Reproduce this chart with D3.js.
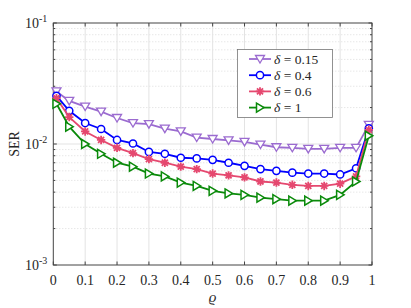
<!DOCTYPE html>
<html>
<head>
  <meta charset="utf-8">
  <title>SER vs rho</title>
  <style>
    body { margin: 0; background: #fff; }
    text { font-family: "Liberation Serif", "DejaVu Serif", serif; fill: #262626; }
  </style>
</head>
<body>
  <svg width="411" height="308"></svg>
  <script src="https://d3js.org/d3.v7.min.js"></script>
  <script>
  // data
  let rho = [0.01, 0.05, 0.1, 0.15, 0.2, 0.25, 0.3, 0.35, 0.4, 0.45, 0.5,
             0.55, 0.6, 0.65, 0.7, 0.75, 0.8, 0.85, 0.9, 0.95, 0.99];
  let ser015 = [0.0272, 0.0227, 0.0204, 0.0185, 0.0164, 0.0149, 0.0146, 0.0134, 0.0127, 0.0113, 0.0110,
                0.0107, 0.0104, 0.0099, 0.0094, 0.0093, 0.0091, 0.0091, 0.0093, 0.0093, 0.0144];
  let ser04  = [0.0250, 0.0188, 0.0149, 0.0133, 0.0108, 0.0101, 0.0086, 0.0083, 0.0077, 0.0076, 0.0074,
                0.0070, 0.0066, 0.0062, 0.0060, 0.0058, 0.0057, 0.0057, 0.0056, 0.0063, 0.0135];
  let ser06  = [0.0239, 0.0167, 0.0127, 0.0108, 0.0093, 0.0084, 0.0075, 0.0070, 0.0065, 0.0062, 0.0057,
                0.0055, 0.0053, 0.0049, 0.0048, 0.0046, 0.0045, 0.0045, 0.0047, 0.0054, 0.0131];
  let ser1   = [0.0215, 0.0139, 0.0100, 0.0083, 0.0070, 0.0065, 0.0057, 0.0054, 0.0048, 0.0045, 0.0041,
                0.0039, 0.0038, 0.0036, 0.0035, 0.0034, 0.0034, 0.0034, 0.0038, 0.0049, 0.0117];
  let deltas = ["0.15", "0.4", "0.6", "1"];
  let xTicks = [0, 0.1, 0.2, 0.3, 0.4, 0.5, 0.6, 0.7, 0.8, 0.9, 1];
  let xTickLabels = ["0", "0.1", "0.2", "0.3", "0.4", "0.5", "0.6", "0.7", "0.8", "0.9", "1"];
  let yTicks = [1e-3, 1e-2, 1e-1];
  let yTickExp = ["-3", "-2", "-1"];

  let series = [
    { d: deltas[0], y: ser015, color: "#9b6bd0", marker: "tridown" },
    { d: deltas[1], y: ser04,  color: "#0000ff", marker: "circle" },
    { d: deltas[2], y: ser06,  color: "#e5486f", marker: "star" },
    { d: deltas[3], y: ser1,   color: "#0a8a0a", marker: "triright" }
  ];

  let svg = d3.select("svg");
  let pLeft = 53.3, pRight = 372, pTop = 23, pBottom = 265;

  let x = d3.scaleLinear().domain([0, 1]).range([pLeft, pRight]);
  let y = d3.scaleLog().domain([1e-3, 1e-1]).range([pBottom, pTop]);

  // grid
  let minor = y.ticks().filter(v => yTicks.indexOf(v) < 0);
  let grid = svg.append("g");
  grid.selectAll(".ym").data(minor).enter().append("line")
    .attr("x1", pLeft).attr("x2", pRight)
    .attr("y1", d => y(d)).attr("y2", d => y(d))
    .attr("stroke", "#d4d4d4").attr("stroke-width", 0.8).attr("stroke-dasharray", "1,2");
  grid.selectAll(".yM").data([1e-2]).enter().append("line")
    .attr("x1", pLeft).attr("x2", pRight)
    .attr("y1", d => y(d)).attr("y2", d => y(d))
    .attr("stroke", "#e3e3e3").attr("stroke-width", 1);
  grid.selectAll(".xM").data(xTicks.slice(1, -1)).enter().append("line")
    .attr("y1", pTop).attr("y2", pBottom)
    .attr("x1", d => x(d)).attr("x2", d => x(d))
    .attr("stroke", "#e3e3e3").attr("stroke-width", 1);

  // axes (ticks inward, box on)
  let axisColor = "#444";
  let axes = svg.append("g").attr("stroke", axisColor).attr("stroke-width", 1);
  axes.append("rect").attr("x", pLeft).attr("y", pTop)
    .attr("width", pRight - pLeft).attr("height", pBottom - pTop)
    .attr("fill", "none");
  xTicks.forEach(t => {
    axes.append("line").attr("x1", x(t)).attr("x2", x(t)).attr("y1", pBottom).attr("y2", pBottom - 3.5);
    axes.append("line").attr("x1", x(t)).attr("x2", x(t)).attr("y1", pTop).attr("y2", pTop + 3.5);
  });
  y.ticks().forEach(t => {
    let len = yTicks.indexOf(t) >= 0 ? 3.5 : 2;
    axes.append("line").attr("x1", pLeft).attr("x2", pLeft + len).attr("y1", y(t)).attr("y2", y(t));
    axes.append("line").attr("x1", pRight).attr("x2", pRight - len).attr("y1", y(t)).attr("y2", y(t));
  });

  svg.selectAll(".xl").data(xTicks).enter().append("text")
    .attr("x", d => x(d)).attr("y", pBottom + 20)
    .attr("text-anchor", "middle").attr("font-size", 14)
    .text((d, i) => xTickLabels[i]);

  yTicks.forEach((t, i) => {
    let tx = svg.append("text").attr("x", pLeft - 6).attr("y", y(t) + 5)
      .attr("text-anchor", "end").attr("font-size", 14);
    tx.append("tspan").text("10");
    tx.append("tspan").attr("dy", -6).attr("font-size", 10).text(yTickExp[i]);
  });

  svg.append("text").attr("transform", "translate(19," + ((pTop + pBottom) / 2) + ") rotate(-90)")
    .attr("text-anchor", "middle").attr("font-size", 14).text("SER");
  svg.append("text").attr("x", (pLeft + pRight) / 2).attr("y", 302)
    .attr("text-anchor", "middle").attr("font-size", 15).attr("font-style", "italic").text("ϱ");

  // markers
  function drawMarker(g, type, cx, cy, color) {
    if (type === "circle") {
      g.append("circle").attr("cx", cx).attr("cy", cy).attr("r", 3.6)
        .attr("fill", "#fff").attr("stroke", color).attr("stroke-width", 1.5);
    } else if (type === "tridown") {
      g.append("path").attr("d", `M${cx - 4.5},${cy - 3.5}L${cx + 4.5},${cy - 3.5}L${cx},${cy + 4}Z`)
        .attr("fill", "#fff").attr("stroke", color).attr("stroke-width", 1.3);
    } else if (type === "triright") {
      g.append("path").attr("d", `M${cx - 3.5},${cy - 4.5}L${cx + 4},${cy}L${cx - 3.5},${cy + 4.5}Z`)
        .attr("fill", "#fff").attr("stroke", color).attr("stroke-width", 1.5);
    } else {
      let r = 4.2, rd = r * 0.72;
      let p = `M${cx - r},${cy}L${cx + r},${cy}M${cx},${cy - r}L${cx},${cy + r}` +
              `M${cx - rd},${cy - rd}L${cx + rd},${cy + rd}M${cx - rd},${cy + rd}L${cx + rd},${cy - rd}`;
      g.append("path").attr("d", p).attr("fill", "none").attr("stroke", color).attr("stroke-width", 1.8);
    }
  }

  let line = d3.line().x(d => x(d[0])).y(d => y(d[1]));
  series.forEach(s => {
    let pts = rho.map((r, i) => [r, s.y[i]]);
    let g = svg.append("g");
    g.append("path").datum(pts).attr("d", line)
      .attr("fill", "none").attr("stroke", s.color).attr("stroke-width", 1.8);
    pts.forEach(p => drawMarker(g, s.marker, x(p[0]), y(p[1]), s.color));
  });

  // legend
  let lg = svg.append("g");
  lg.append("rect").attr("x", 237.5).attr("y", 49.5).attr("width", 95).attr("height", 68)
    .attr("fill", "#fff").attr("stroke", "#777").attr("stroke-width", 0.8);
  series.forEach((s, i) => {
    let ly = 59 + i * 16.2;
    lg.append("line").attr("x1", 249).attr("x2", 271).attr("y1", ly).attr("y2", ly)
      .attr("stroke", s.color).attr("stroke-width", 1.8);
    drawMarker(lg, s.marker, 260, ly, s.color);
    let t = lg.append("text").attr("x", 274).attr("y", ly + 4.5).attr("font-size", 13.5);
    t.append("tspan").attr("font-style", "italic").text("δ");
    t.append("tspan").text(" = " + s.d);
  });
  </script>
</body>
</html>
